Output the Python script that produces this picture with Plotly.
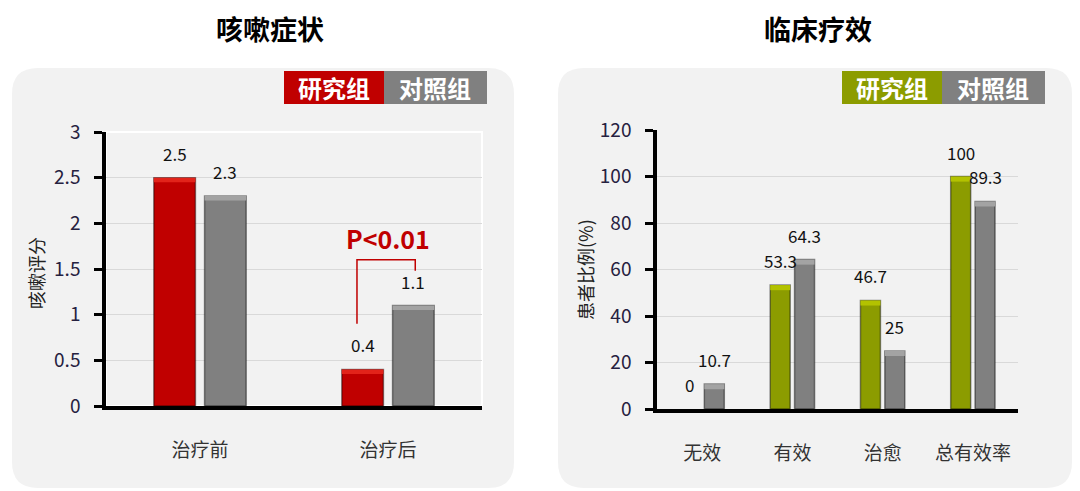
import plotly.graph_objects as go

# data
cough_cats = ['治疗前', '治疗后']
cough_study = [2.5, 0.4]
cough_ctrl = [2.3, 1.1]

eff_cats = ['无效', '有效', '治愈', '总有效率']
eff_study = [0, 53.3, 46.7, 100]
eff_ctrl = [10.7, 64.3, 25, 89.3]

W, H = 1080, 491
FONT = 'Noto Sans CJK SC'
RED = '#C00000'
GRAY = '#808080'
GREEN = '#8C9C00'
BARGAP = 0.46
OFF = (1 - BARGAP) / 4


def px(x):
    return x / W


def py(y):
    return 1 - y / H


def rounded(x0, y0, x1, y1, r):
    # rounded rectangle in paper coords, input in pixels
    pts = [
        'M', px(x0 + r), py(y0),
        'L', px(x1 - r), py(y0),
        'Q', px(x1), py(y0), px(x1), py(y0 + r),
        'L', px(x1), py(y1 - r),
        'Q', px(x1), py(y1), px(x1 - r), py(y1),
        'L', px(x0 + r), py(y1),
        'Q', px(x0), py(y1), px(x0), py(y1 - r),
        'L', px(x0), py(y0 + r),
        'Q', px(x0), py(y0), px(x0 + r), py(y0),
    ]
    return ' '.join(str(p) for p in pts) + ' Z'


fig = go.Figure()


def add_group(cats, vals, color, cap_color, xa, ya, group, cap):
    fig.add_trace(go.Bar(x=cats, y=vals,
                         marker=dict(color=color, line=dict(color='rgba(0,0,0,0.45)',
                                                            width=[1.5 if v > 0 else 0 for v in vals])),
                         offsetgroup=group, xaxis=xa, yaxis=ya, showlegend=False, hoverinfo='y'))
    # lighter top cap for the bevel look
    fig.add_trace(go.Bar(x=cats, y=[cap if v > 0 else 0 for v in vals],
                         base=[v - cap if v > 0 else 0 for v in vals],
                         marker=dict(color=cap_color, line=dict(width=0)),
                         offsetgroup=group, xaxis=xa, yaxis=ya, showlegend=False, hoverinfo='skip'))


add_group(cough_cats, cough_study, RED, '#E2231A', 'x', 'y', 'a', 0.05)
add_group(cough_cats, cough_ctrl, GRAY, '#A3A3A3', 'x', 'y', 'b', 0.05)
add_group(eff_cats, eff_study, GREEN, '#B3C200', 'x2', 'y2', 'a', 2.2)
add_group(eff_cats, eff_ctrl, GRAY, '#A3A3A3', 'x2', 'y2', 'b', 2.2)

tickfont = dict(family=FONT, size=19, color='#262140')
catfont = dict(family=FONT, size=19, color='#333333')
yax = dict(showline=True, linecolor='black', linewidth=3.5, ticks='outside', ticklen=8, tickwidth=3,
           tickcolor='black', tickfont=tickfont, ticklabelstandoff=10, showgrid=True,
           gridcolor='#D9D9D9', gridwidth=1, zeroline=False, fixedrange=True, automargin=False)
xax = dict(showline=True, linecolor='black', linewidth=3.5, ticks='', tickfont=catfont,
           ticklabelstandoff=24, showgrid=False, fixedrange=True, automargin=False)

fig.update_layout(
    width=W, height=H,
    margin=dict(l=0, r=0, t=0, b=0, autoexpand=False),
    paper_bgcolor='white',
    plot_bgcolor='rgba(0,0,0,0)',
    barmode='group', bargap=BARGAP, bargroupgap=0.18,
    font=dict(family=FONT),
    xaxis=dict(xax, domain=[px(106), px(482)], anchor='y'),
    yaxis=dict(yax, domain=[py(406), py(132)], range=[0, 3], dtick=0.5, anchor='x'),
    xaxis2=dict(xax, domain=[px(657), px(1018)], anchor='y2'),
    yaxis2=dict(yax, domain=[py(409), py(130)], range=[0, 120], dtick=20, anchor='x2'),
)

shapes = [
    dict(type='path', path=rounded(12, 68, 514, 488, 26), xref='paper', yref='paper',
         fillcolor='#F2F2F2', line=dict(width=0), layer='below'),
    dict(type='path', path=rounded(558, 68, 1072, 488, 26), xref='paper', yref='paper',
         fillcolor='#F2F2F2', line=dict(width=0), layer='below'),
    # white frame on the left plot area
    dict(type='rect', xref='x domain', yref='y domain', x0=0, x1=1, y0=0, y1=1,
         line=dict(color='white', width=2), layer='below'),
]

annotations = []


def text(t, x, y, size, color, ref=('paper', 'paper'), **kw):
    annotations.append(dict(text=t, x=x, y=y, xref=ref[0], yref=ref[1], showarrow=False,
                            xanchor=kw.pop('xanchor', 'center'), yanchor=kw.pop('yanchor', 'middle'),
                            font=dict(family=FONT, size=size, color=color), **kw))


def legend(x0, color):
    xm = x0 + 100
    shapes.append(dict(type='rect', xref='paper', yref='paper', x0=px(x0), x1=px(xm), y0=py(104), y1=py(71),
                       fillcolor=color, line=dict(width=0)))
    shapes.append(dict(type='rect', xref='paper', yref='paper', x0=px(xm), x1=px(xm + 103), y0=py(104), y1=py(71),
                       fillcolor=GRAY, line=dict(width=0)))
    text('<b>研究组</b>', px((x0 + xm) / 2), py(88), 24, 'white')
    text('<b>对照组</b>', px(xm + 51), py(88), 24, 'white')


legend(284, RED)
legend(842, GREEN)

# titles
text('<b>咳嗽症状</b>', px(270), py(28), 27, 'black')
text('<b>临床疗效</b>', px(818), py(28), 27, 'black')

# y axis titles
text('咳嗽评分', px(36), py(273), 18, '#222222', textangle=-90)
text('患者比例(%)', px(585), py(270), 18, '#222222', textangle=-90)

# value labels
for cats, s, c, xr, yr in ((cough_cats, cough_study, cough_ctrl, 'x', 'y'),
                           (eff_cats, eff_study, eff_ctrl, 'x2', 'y2')):
    for i in range(len(cats)):
        for v, d in ((s[i], -OFF), (c[i], OFF)):
            text('%g' % v, i + d, v, 17, '#111111', ref=(xr, yr), yanchor='bottom', yshift=10)

# significance bracket
br_x = [1 - OFF - 0.03, 1 + OFF + 0.01]
br_y = [0.9, 1.6, 1.48]
shapes.append(dict(type='path', xref='x', yref='y',
                   path='M %f %f L %f %f L %f %f L %f %f' % (br_x[0], br_y[0], br_x[0], br_y[1],
                                                              br_x[1], br_y[1], br_x[1], br_y[2]),
                   line=dict(color=RED, width=1.5)))
text('<b>P<0.01</b>', 1, 1.84, 25, RED, ref=('x', 'y'))

fig.update_layout(shapes=shapes, annotations=annotations)

fig.write_html('out.html', config={'displayModeBar': False},
               post_script="document.body.style.margin='0';")
